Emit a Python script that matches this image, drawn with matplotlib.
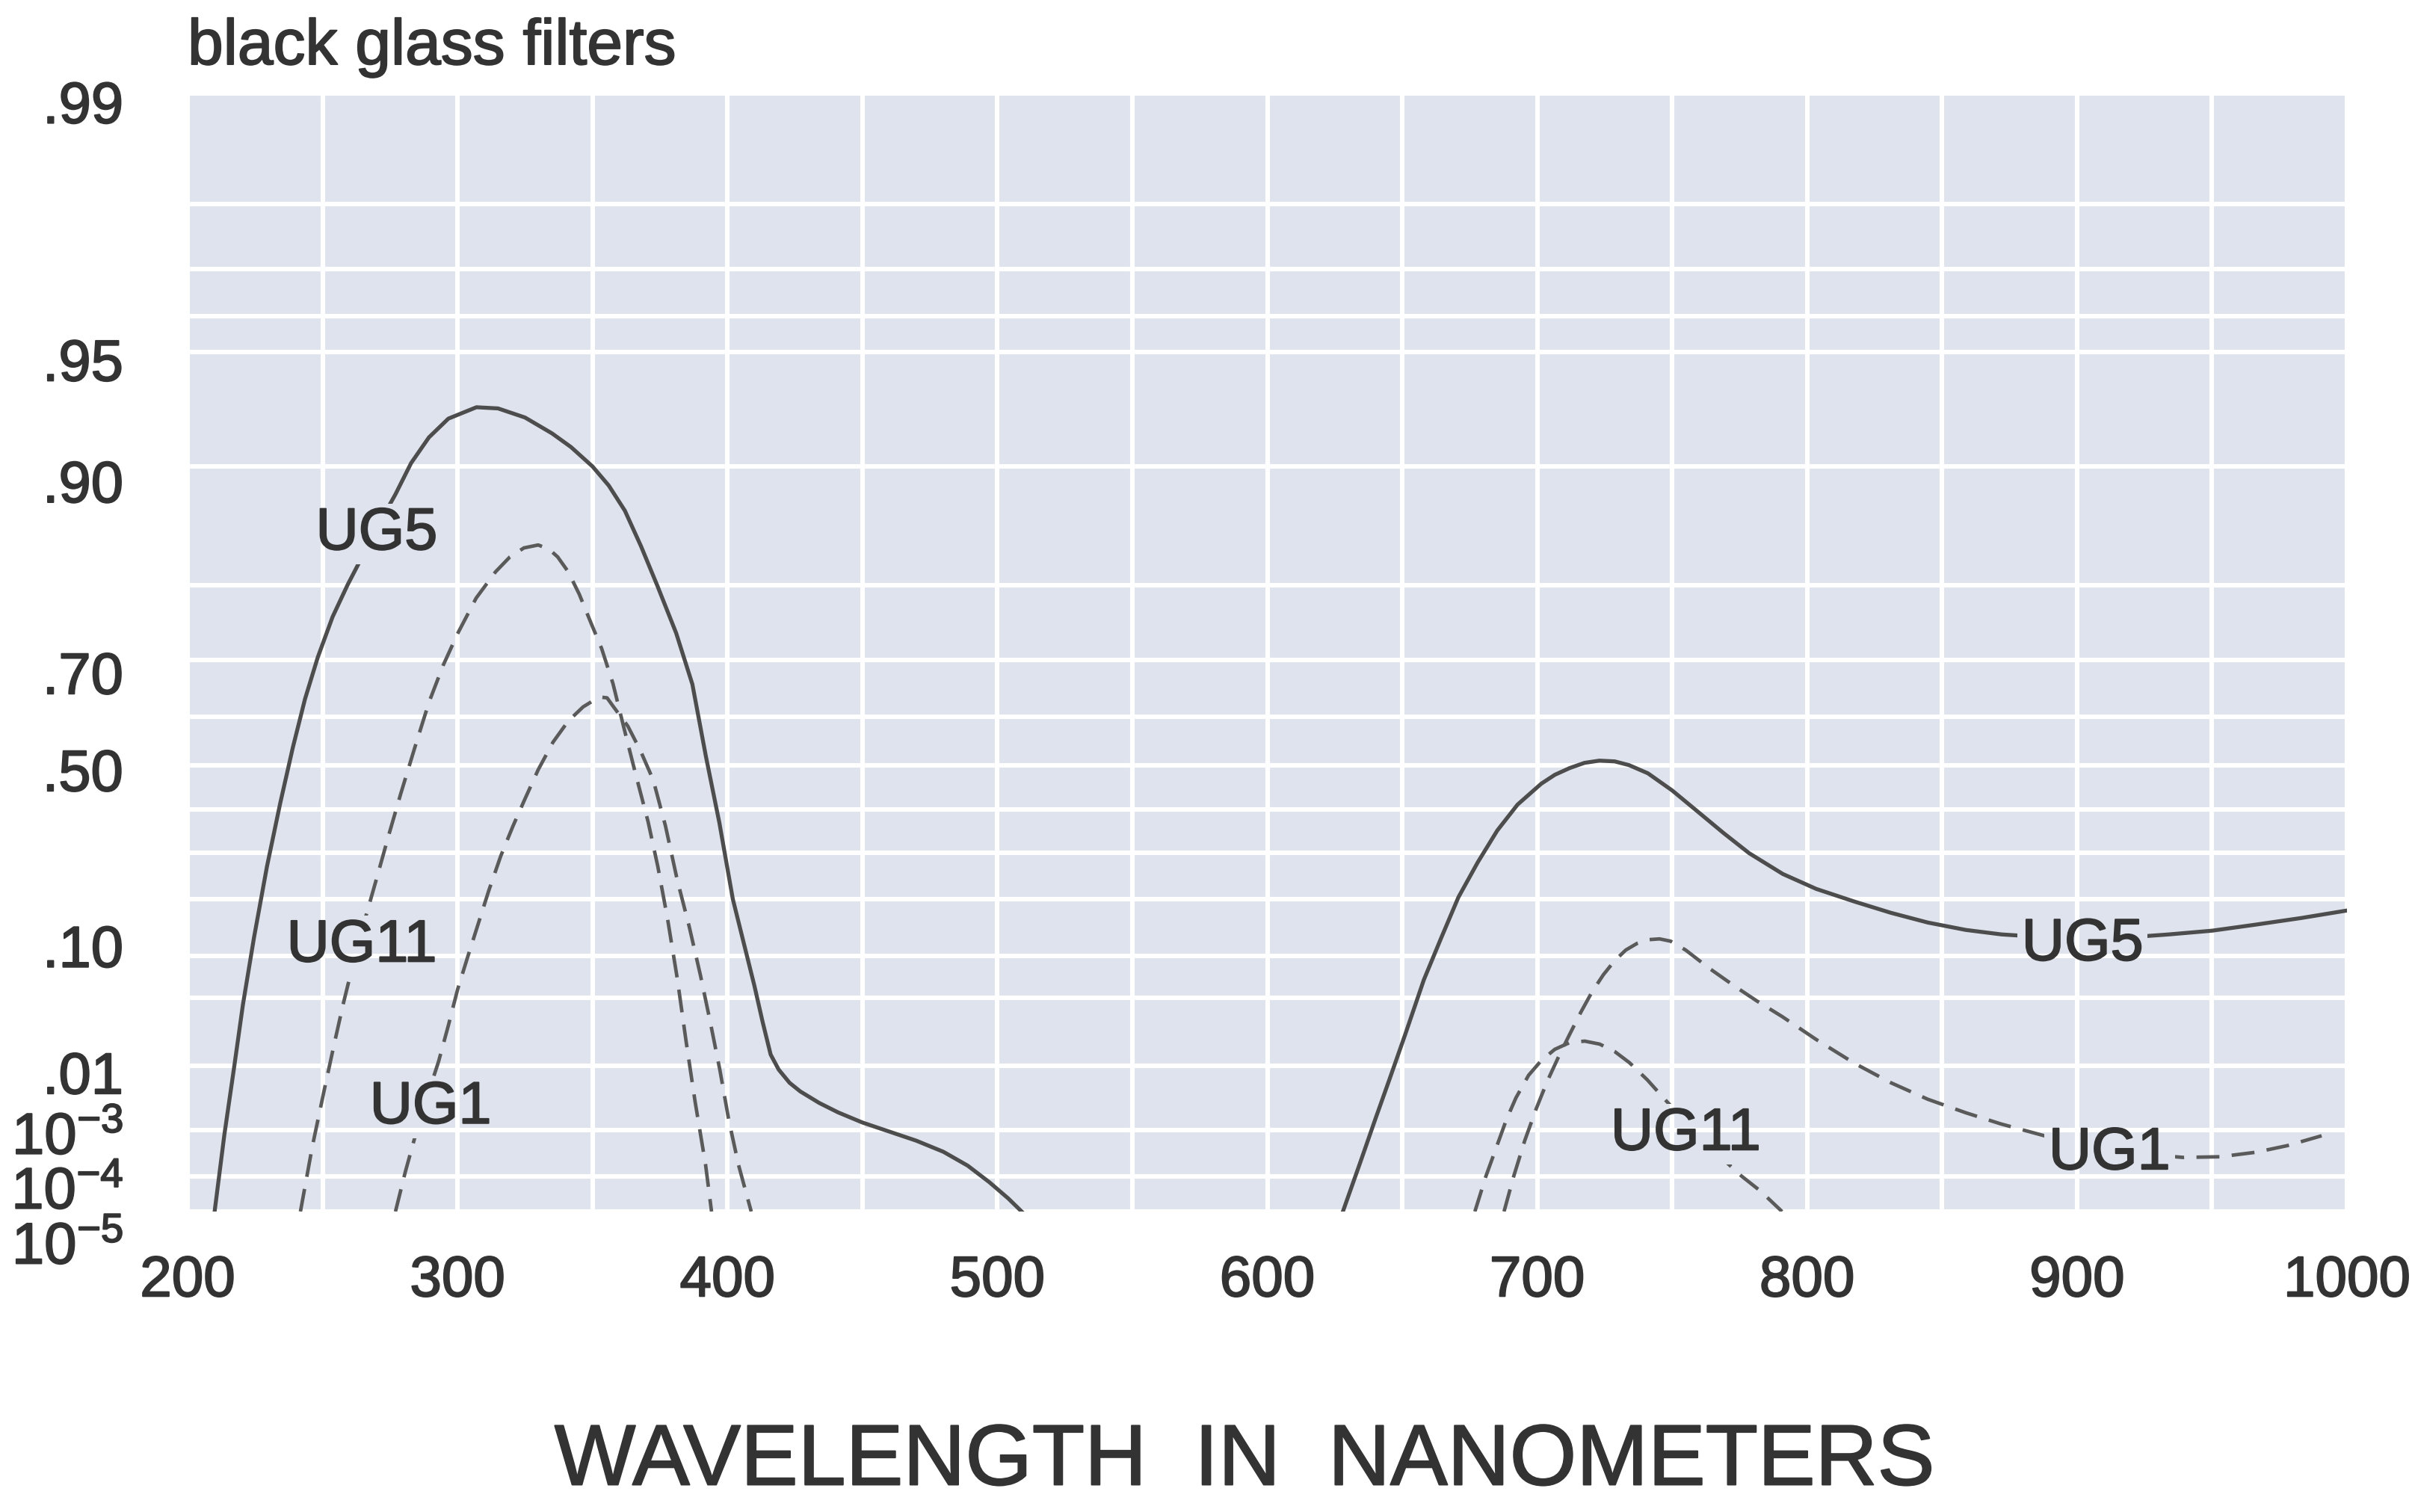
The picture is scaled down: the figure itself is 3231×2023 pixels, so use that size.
import numpy as np
import matplotlib
matplotlib.use("Agg")
import matplotlib.pyplot as plt
from matplotlib import font_manager
from matplotlib import patheffects
from matplotlib.path import Path
from matplotlib.transforms import ScaledTranslation, IdentityTransform

# ---------------------------------------------------------------------------
# Transmission curves of the UG black glass filters (wavelength in nm,
# transmittance as a fraction).  Each filter has a UV pass band and a
# red / near-IR leak band.
# ---------------------------------------------------------------------------
ug5_uv_nm = [210, 213.6, 217.2, 220.5, 224.6, 229.4, 234.3, 239, 243.5, 248.2,
             253.7, 259.3, 262.9, 269, 277, 282.8, 289.4, 296.6, 307, 315,
             325, 335, 342, 350, 356, 362, 368, 374, 381, 387, 392, 397, 402,
             406, 410, 413, 416, 419, 423, 427, 434, 441, 450, 460, 470, 480,
             489, 497, 504, 509]
ug5_uv_t = [1e-5, 8.2e-4, 9.5e-3, 0.044, 0.129, 0.27, 0.415, 0.539, 0.634,
            0.704, 0.762, 0.801, 0.821, 0.852, 0.882, 0.902, 0.916, 0.925,
            0.930, 0.9295, 0.9255, 0.918, 0.911, 0.90, 0.888, 0.87, 0.84,
            0.80, 0.74, 0.66, 0.52, 0.37, 0.20, 0.1205, 0.062, 0.0308, 0.0138,
            0.009, 0.006, 0.0045, 0.003, 0.0021, 0.0014, 9.5e-4, 6.3e-4,
            3.7e-4, 1.8e-4, 7e-5, 2.5e-5, 1e-5]

ug5_ir_nm = [628, 634.5, 640, 645.2, 651, 658, 664.4, 670.8, 678, 685.2,
             692.7, 701.5, 706.5, 712, 717.5, 723, 728.7, 734, 741, 750, 759,
             769, 778.5, 791, 803.4, 817.6, 831, 844.7, 858.8, 872, 889, 906,
             922.5, 934, 950, 966, 983, 1000]
ug5_ir_t = [1e-5, 2.2e-4, 1.6e-3, 6.6e-3, 0.0226, 0.069, 0.128, 0.204, 0.2796,
            0.352, 0.4119, 0.4596, 0.4794, 0.4943, 0.5057, 0.5105, 0.5089,
            0.5008, 0.4828, 0.4443, 0.3982, 0.3463, 0.2999, 0.2533, 0.2212,
            0.1951, 0.1732, 0.155, 0.1418, 0.1341, 0.1291, 0.1278, 0.1303,
            0.1341, 0.1405, 0.1511, 0.1633, 0.1776]

ug11_uv_nm = [241.8, 246.2, 250.7, 254.3, 257.6, 261.2, 265.6, 270.1, 274.5,
              278.9, 284.2, 289.4, 294.7, 300, 306.9, 314.1, 319.4, 324.6,
              329.9, 334, 337.1, 341, 345.1, 349.5, 353.4, 357.6, 361.7,
              365.9, 370.6, 374.2, 377.8, 381.4, 384.7, 388, 391.9, 394.1]
ug11_uv_t = [1e-5, 4.8e-4, 4.9e-3, 0.01815, 0.044, 0.0875, 0.159, 0.2452,
             0.3412, 0.4357, 0.539, 0.6276, 0.6918, 0.7391, 0.7855, 0.815,
             0.830, 0.8386, 0.8413, 0.8372, 0.830, 0.815, 0.790, 0.7534,
             0.7175, 0.6608, 0.5774, 0.4828, 0.3722, 0.2698, 0.162, 0.0706,
             0.0192, 3.16e-3, 1.87e-4, 1e-5]

ug11_ir_nm = [676.9, 681, 685.2, 688.5, 692.1, 696.8, 701.5, 706.5, 712,
              717.6, 723.1, 728.7, 734.2, 740.8, 748, 755.8, 763.3, 768.8,
              775.7, 782.7, 790.7]
ug11_ir_t = [1e-5, 1e-4, 5.2e-4, 1.54e-3, 3.6e-3, 7.6e-3, 0.01172, 0.01585,
             0.01884, 0.01954, 0.01815, 0.01497, 0.01101, 6.58e-3, 3.16e-3,
             1.32e-3, 5.2e-4, 2.56e-4, 1e-4, 4.04e-5, 1e-5]

ug1_uv_nm = [277, 280.6, 284.2, 288.6, 293, 296.6, 300, 303.6, 307.2, 311.6,
             316, 320.5, 324.9, 329.9, 335.4, 341, 346.5, 350.6, 353.1, 355.4,
             357.6, 363.1, 367.8, 372.5, 377, 381.4, 385.8, 390, 393.6, 397.2,
             400.5, 404.1, 408.8]
ug1_uv_t = [1e-5, 1.24e-4, 7.4e-4, 3.6e-3, 0.01148, 0.0283, 0.0581, 0.0968,
            0.1457, 0.2182, 0.2933, 0.3618, 0.4239, 0.4909, 0.5499, 0.5921,
            0.6192, 0.6318, 0.6372, 0.6359, 0.6207, 0.5821, 0.5313, 0.4679,
            0.3634, 0.2403, 0.1483, 0.0742, 0.0308, 8.87e-3, 1.54e-3, 1.87e-4,
            1e-5]

ug1_ir_nm = [687.7, 691.3, 695.4, 699.6, 703.7, 707.9, 712, 716.2, 720.3,
             724.5, 728.7, 732.8, 737, 741.1, 745.3, 749.4, 755, 763.6, 773,
             781.3, 790.7, 803.4, 817.6, 831.1, 844.7, 858.8, 871.8, 887.9,
             905.9, 922.5, 939.4, 953, 966.3, 977.9, 990.6]
ug1_ir_t = [1e-5, 1e-4, 6.4e-4, 2.4e-3, 6.28e-3, 0.013, 0.023, 0.0378, 0.0558,
            0.075, 0.0935, 0.1089, 0.1193, 0.1253, 0.1266, 0.1229, 0.1089,
            0.0835, 0.0621, 0.0472, 0.0344, 0.0203, 0.0108, 5.99e-3, 3.43e-3,
            2.07e-3, 1.32e-3, 7.9e-4, 4.8e-4, 3.36e-4, 2.78e-4, 2.88e-4,
            3.62e-4, 5.0e-4, 7.9e-4]

# Axis ticks
x_major = [200, 300, 400, 500, 600, 700, 800, 900, 1000]
x_minor = [250, 350, 450, 550, 650, 750, 850, 950]
y_major = [0.99, 0.95, 0.90, 0.70, 0.50, 0.10, 0.01, 1e-3, 1e-4, 1e-5]
y_major_labels = [".99", ".95", ".90", ".70", ".50", ".10", ".01",
                  "$10^{-3}$", "$10^{-4}$", "$10^{-5}$"]
y_minor = [0.98, 0.97, 0.96, 0.80, 0.60, 0.40, 0.30, 0.20, 0.05]

# Curve labels: (text, wavelength, transmittance)
curve_labels = [("UG5", 270, 0.851), ("UG11", 264.5, 0.115),
                ("UG1", 290, 2.5e-3), ("UG11", 755, 8.4e-4),
                ("UG5", 902, 0.117), ("UG1", 912, 3.35e-4)]

# ---------------------------------------------------------------------------
# Styling
# ---------------------------------------------------------------------------
installed = {f.name for f in font_manager.fontManager.ttflist}
FONT = "Liberation Sans" if "Liberation Sans" in installed else "DejaVu Sans"
plt.rcParams["font.family"] = [FONT, "DejaVu Sans"]
plt.rcParams["mathtext.fontset"] = "custom"
plt.rcParams["mathtext.rm"] = FONT
plt.rcParams["mathtext.it"] = FONT + ":italic"
plt.rcParams["mathtext.bf"] = FONT + ":bold"

BG = "#dfe3ed"
TEXT = "#333333"
SOLID = "#4d4d4d"
DASH = "#5a5a5a"
# slightly heavier glyphs
HEAVY = [patheffects.withStroke(linewidth=0.7, foreground=TEXT)]


# Transmission is plotted on a diabatic (double logarithmic) scale.
def diabatic(t):
    t = np.clip(np.asarray(t, dtype=float), 1e-12, 1 - 1e-12)
    return -np.log10(-np.log10(t))


def diabatic_inv(u):
    u = np.asarray(u, dtype=float)
    return 10.0 ** (-(10.0 ** (-u)))


fig = plt.figure(figsize=(16.155, 10.12), dpi=200, facecolor="white")
ax = fig.add_axes([0.07769, 0.19862, 0.89415, 0.73913])
ax.set_facecolor(BG)
ax.set_yscale("function", functions=(diabatic, diabatic_inv))

lw_solid = 1.9
lw_dash = 1.7
dash = (6.5, 3.5)
curves = []
curves += ax.plot(ug5_uv_nm, ug5_uv_t, color=SOLID, lw=lw_solid)
curves += ax.plot(ug5_ir_nm, ug5_ir_t, color=SOLID, lw=lw_solid)
curves += ax.plot(ug11_uv_nm, ug11_uv_t, color=DASH, lw=lw_dash, dashes=dash)
curves += ax.plot(ug11_ir_nm, ug11_ir_t, color=DASH, lw=lw_dash, dashes=dash)
curves += ax.plot(ug1_uv_nm, ug1_uv_t, color=DASH, lw=lw_dash, dashes=dash)
curves += ax.plot(ug1_ir_nm, ug1_ir_t, color=DASH, lw=lw_dash, dashes=dash)

label_texts = [ax.text(x, y, txt, ha="center", va="center", fontsize=28.5,
                       color=TEXT, zorder=6, path_effects=HEAVY)
               for txt, x, y in curve_labels]

ax.set_xlim(200, 1000)
ax.set_ylim(1e-5, 0.99)

ax.set_xticks(x_major)
ax.set_xticks(x_minor, minor=True)
ax.set_yticks(y_major)
ax.set_yticklabels(y_major_labels)
ax.set_yticks(y_minor, minor=True)
ax.yaxis.set_minor_formatter(plt.NullFormatter())

ax.tick_params(axis="both", which="both", length=0, colors=TEXT)
ax.tick_params(axis="x", which="major", labelsize=27.5, pad=21)
ax.tick_params(axis="y", which="major", labelsize=28, pad=31)
for lab in ax.get_xticklabels() + ax.get_yticklabels():
    lab.set_path_effects(HEAVY)

ax.grid(True, which="both", color="white", linewidth=2.2)
ax.set_axisbelow(True)
for s in ax.spines.values():
    s.set_visible(False)

# Small vertical nudges of the crowded y tick labels (points, down positive)
y_label_shift = [4, 3.5, 7, 6, 2, -5, 3, 1, 5.5, 15]
for tick, dy in zip(ax.yaxis.get_major_ticks(), y_label_shift):
    tick.label1.set_path_effects(HEAVY)
    tick.label1.set_transform(
        tick.label1.get_transform()
        + ScaledTranslation(0, -dy / 72.0, fig.dpi_scale_trans))
for tick in ax.xaxis.get_major_ticks():
    tick.label1.set_path_effects(HEAVY)

fig.text(0.07769, 0.957, "black glass filters", ha="left", va="baseline",
         fontsize=30.9, color=TEXT, path_effects=HEAVY)
ax.set_xlabel("WAVELENGTH  IN  NANOMETERS", fontsize=41.4, color=TEXT,
              va="center", path_effects=HEAVY)
ax.xaxis.set_label_coords(0.4894, -0.2246)

# Interrupt the curves where a curve label sits: clip them to the axes
# area minus the label boxes (holes wound the opposite way).
fig.canvas.draw()
renderer = fig.canvas.get_renderer()
abb = ax.bbox
verts = [(abb.x0, abb.y0), (abb.x1, abb.y0), (abb.x1, abb.y1),
         (abb.x0, abb.y1), (abb.x0, abb.y0)]
codes = [Path.MOVETO, Path.LINETO, Path.LINETO, Path.LINETO, Path.CLOSEPOLY]
pad = 6
for t in label_texts:
    bb = t.get_window_extent(renderer)
    x0, y0, x1, y1 = bb.x0 - pad, bb.y0 - pad / 2, bb.x1 + pad, bb.y1 + pad / 2
    verts += [(x0, y0), (x0, y1), (x1, y1), (x1, y0), (x0, y0)]
    codes += [Path.MOVETO, Path.LINETO, Path.LINETO, Path.LINETO,
              Path.CLOSEPOLY]
clip = Path(verts, codes)
for ln in curves:
    ln.set_clip_path(clip, IdentityTransform())

fig.savefig("out.png", dpi=200, facecolor="white")
